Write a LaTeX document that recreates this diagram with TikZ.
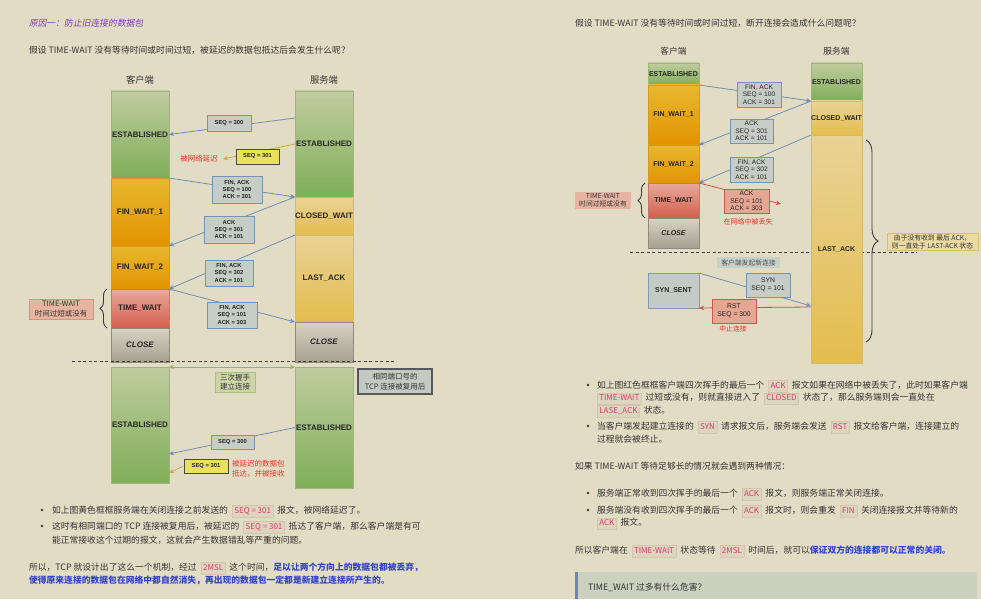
\documentclass[tikz,border=0pt]{standalone}
\usepackage{fontspec}
\setmainfont{Noto Sans CJK SC}
\newfontfamily\hand{Liberation Sans}
\newfontfamily\cjkslant[FakeSlant=0.18]{Noto Sans CJK SC}
\usetikzlibrary{arrows.meta,decorations.pathreplacing,calc}
\definecolor{bg}{HTML}{E3DCC5}
\definecolor{txt}{HTML}{333333}
\definecolor{grnT}{HTML}{C0CCA0}
\definecolor{grnB}{HTML}{80AE58}
\definecolor{grnD}{HTML}{9CB878}
\definecolor{orT}{HTML}{E8B830}
\definecolor{orB}{HTML}{E29300}
\definecolor{orD}{HTML}{D09A28}
\definecolor{loT}{HTML}{E9D296}
\definecolor{loB}{HTML}{E4BD4E}
\definecolor{loD}{HTML}{D6BA6C}
\definecolor{rdT}{HTML}{E8AA9A}
\definecolor{rdB}{HTML}{D45E4E}
\definecolor{rdD}{HTML}{C27868}
\definecolor{gyT}{HTML}{D7D2C2}
\definecolor{gyB}{HTML}{A5A092}
\definecolor{gyD}{HTML}{8E8A7E}
\definecolor{msgF}{HTML}{C6CCC6}
\definecolor{msgD}{HTML}{7593B2}
\definecolor{arrC}{HTML}{6F8FB4}
\definecolor{yelF}{HTML}{E9E15A}
\definecolor{yelD}{HTML}{4C4A3C}
\definecolor{goldC}{HTML}{C8A852}
\definecolor{redT}{HTML}{E8322B}
\definecolor{redA}{HTML}{C9524A}
\definecolor{redF}{HTML}{E5A693}
\definecolor{redD}{HTML}{C65A4F}
\definecolor{twF}{HTML}{E6B4A0}
\definecolor{twD}{HTML}{D39580}
\definecolor{hsF}{HTML}{CDD5A8}
\definecolor{hsD}{HTML}{A6BF82}
\definecolor{dblA}{HTML}{8DB86C}
\definecolor{reuseF}{HTML}{C4CAC3}
\definecolor{reuseD}{HTML}{55595A}
\definecolor{lastF}{HTML}{EADBA2}
\definecolor{lastD}{HTML}{D5BE72}
\definecolor{newF}{HTML}{C6D1CC}
\definecolor{ssF}{HTML}{C4CBC6}
\definecolor{ssD}{HTML}{8299AF}
\definecolor{chipF}{HTML}{DDD5BE}
\definecolor{chipD}{HTML}{D0C7AE}
\definecolor{chipT}{HTML}{DC3B6B}
\definecolor{blueT}{HTML}{3344CC}
\definecolor{purp}{HTML}{7E3CC2}
\definecolor{quoteF}{HTML}{CCD0BE}
\definecolor{quoteL}{HTML}{6A86B6}
\definecolor{braceC}{HTML}{3C3C3C}
\definecolor{dashC}{HTML}{3C3C3C}
\newcommand\chip[1]{\hspace{4pt}{\setlength\fboxsep{1.8pt}\setlength\fboxrule{0.5pt}\fcolorbox{chipD}{chipF}{\rule[-1.5pt]{0pt}{7pt}\fontsize{8}{9}\selectfont\textcolor{chipT}{#1}}}\hspace{4pt}}
\tikzset{
  seg/.style={inner sep=0, outer sep=0, line width=0.7pt, font=\hand\bfseries\fontsize{8}{9}\selectfont, text=black!85},
  rseg/.style={seg, font=\hand\bfseries\fontsize{7}{8}\selectfont},
  gr/.style={top color=grnT, bottom color=grnB, draw=grnD},
  orng/.style={top color=orT, bottom color=orB, draw=orD},
  lor/.style={top color=loT, bottom color=loB, draw=loD},
  rd/.style={top color=rdT, bottom color=rdB, draw=rdD},
  gy/.style={top color=gyT, bottom color=gyB, draw=gyD},
  msg/.style={draw=msgD, fill=msgF, line width=0.8pt, inner sep=0, align=center, font=\hand\bfseries\fontsize{5.8}{7.2}\selectfont, text=black!85},
  rmsg/.style={msg, font=\hand\fontsize{6.6}{7.6}\selectfont},
  yel/.style={msg, draw=yelD, fill=yelF},
  redbox/.style={msg, draw=redD, fill=redF},
  arr/.style={draw=arrC, line width=0.8pt, -{Stealth[length=5pt,width=4.5pt]}},
  note/.style={inner sep=0, align=center, font=\fontsize{7.5}{9.5}\selectfont, text=txt},
  body/.style={anchor=base west, inner sep=0, outer sep=0, font=\fontsize{8.8}{11}\selectfont, text=txt},
  head/.style={inner sep=0, font=\fontsize{9.3}{11}\selectfont, text=txt},
  bracedeco/.style={decorate, decoration={brace, amplitude=#1}, draw=braceC, line width=0.9pt},
  dot/.style={circle, fill=txt, inner sep=0, minimum size=2.6pt}
}
\begin{document}
\begin{tikzpicture}[x=1pt,y=-1pt]
\useasboundingbox (0,0) rectangle (981,599);
\fill[bg] (0,0) rectangle (981,599);

% ================= LEFT =================
\node[body, text=purp, font=\cjkslant\fontsize{8.8}{11}\selectfont] (t0) at (29,26.3) {原因一：防止旧连接的数据包};
\node[body] (t1) at (29,53.3) {假设 TIME-WAIT 没有等待时间或时间过短，被延迟的数据包抵达后会发生什么呢？};
\node[head] (hc) at (140,80) {客户端};
\node[head] (hs) at (324,80) {服务端};

% client column
\node[seg,gr,minimum width=58,minimum height=87] (cE) at (140,134.5) {ESTABLISHED};
\node[seg,orng,minimum width=58,minimum height=68] (cF1) at (140,212) {FIN\_WAIT\_1};
\node[seg,orng,minimum width=58,minimum height=43] (cF2) at (140,267.5) {FIN\_WAIT\_2};
\node[seg,rd,minimum width=58,minimum height=39] (cTW) at (140,308.5) {TIME\_WAIT};
\node[seg,gy,minimum width=58,minimum height=34,font=\hand\bfseries\itshape\fontsize{8}{9}\selectfont] (cCL) at (140,345) {CLOSE};
% server column
\node[seg,gr,minimum width=58,minimum height=106] (sE) at (324,144) {ESTABLISHED};
\node[seg,lor,minimum width=58,minimum height=38] (sCW) at (324,216) {CLOSED\_WAIT};
\node[seg,lor,minimum width=58,minimum height=87] (sLA) at (324,278.5) {LAST\_ACK};
\node[seg,gy,minimum width=58,minimum height=40,font=\hand\bfseries\itshape\fontsize{8}{9}\selectfont] (sCL) at (324,342) {CLOSE};
% lower columns
\node[seg,gr,minimum width=58,minimum height=116] (cE2) at (140,425) {ESTABLISHED};
\node[seg,gr,minimum width=58,minimum height=121] (sE2) at (324,427.5) {ESTABLISHED};

\draw[dashC, line width=0.8pt, dash pattern=on 3pt off 2.5pt] (72,361.5) -- (395,361.5);

% arrows left
\coordinate (lost1) at (223,159);
\coordinate (e1) at ($(cE2.south east)+(0,-29)$);
\coordinate (e2) at ($(cE2.south east)+(0,-10)$);
\draw[arr] ($(sE.north west)+(0,27)$) -- (cE.east);
\draw[arr, draw=goldC] (sE.west) -- (lost1);
\draw[arr] (cF1.north east) -- (sCW.north west);
\draw[arr] (sCW.north west) -- (cF2.north east);
\draw[arr] (sLA.north west) -- (cTW.north east);
\draw[arr] (cTW.north east) -- (sCL.north west);
\draw[arr] (sE2.west) -- (e1);
\draw[draw=dblA, line width=1pt, {Stealth[length=5pt,width=4.5pt]}-{Stealth[length=5pt,width=4.5pt]}] (cE2.north east) -- (sE2.north west);

% message boxes left
\node[msg, minimum width=44, minimum height=16] (m1) at (229,123) {SEQ = 300};
\node[yel, minimum width=43, minimum height=15] (m2) at (257.5,156.5) {SEQ = 301};
\node[msg, minimum width=50, minimum height=27] (m3) at (237,189.5) {FIN, ACK\\SEQ = 100\\ACK = 301};
\node[msg, minimum width=50, minimum height=27] (m4) at (229,229.5) {ACK\\SEQ = 301\\ACK = 101};
\node[msg, minimum width=48, minimum height=26] (m5) at (229,273) {FIN, ACK\\SEQ = 302\\ACK = 101};
\node[msg, minimum width=50, minimum height=26] (m6) at (232,315) {FIN, ACK\\SEQ = 101\\ACK = 303};
\node[msg, minimum width=43, minimum height=14] (m7) at (232.5,442) {SEQ = 300};
\node[yel, minimum width=44, minimum height=14] (m8) at (206,466) {SEQ = 301};
\draw[arr, draw=goldC] (m8.west) -- (e2);

\node[note, text=redT] (n1) at (199,159) {被网络延迟};
\node[note, draw=twD, fill=twF, minimum width=64, minimum height=20, font=\fontsize{7.5}{9.8}\selectfont] (n2) at (61,309) {TIME-WAIT\\时间过短或没有};
\draw[bracedeco=7] ($(cTW.south west)+(-4,0)$) -- ($(cTW.north west)+(-4,0)$);
\node[note, draw=hsD, fill=hsF, line width=0.8pt, minimum width=40, minimum height=20] (n3) at (235,382) {三次握手\\建立连接};
\node[note, draw=reuseD, fill=reuseF, line width=1.1pt, minimum width=74, minimum height=25] (n4) at (395,381.5) {相同端口号的\\TCP 连接被复用后};
\node[note, text=redT, anchor=west, align=left] (n5) at (232,468.5) {被延迟的数据包\\抵达，并被接收};

% left text
\node[dot] (d1) at (42,510) {};
\node[dot] (d2) at (42,526) {};
\node[body] (t2) at (52,513.3) {如上图黄色框框服务端在关闭连接之前发送的\chip{SEQ = 301}报文，被网络延迟了。};
\node[body] (t3) at (52,529.3) {这时有相同端口的 TCP 连接被复用后，被延迟的\chip{SEQ = 301}抵达了客户端，那么客户端是有可};
\node[body] (t4) at (52,543.3) {能正常接收这个过期的报文，这就会产生数据错乱等严重的问题。};
\node[body] (t5) at (29,570.3) {所以，TCP 就设计出了这么一个机制，经过\chip{2MSL}这个时间，\textcolor{blueT}{\bfseries 足以让两个方向上的数据包都被丢弃，}};
\node[body, text=blueT, font=\bfseries\fontsize{8.8}{11}\selectfont] (t6) at (29,583.3) {使得原来连接的数据包在网络中都自然消失，再出现的数据包一定都是新建立连接所产生的。};

% ================= RIGHT =================
\node[body] (u1) at (575,26.3) {假设 TIME-WAIT 没有等待时间或时间过短，断开连接会造成什么问题呢？};
\node[head, font=\fontsize{8.7}{10}\selectfont] (hc2) at (673.5,51) {客户端};
\node[head, font=\fontsize{8.7}{10}\selectfont] (hs2) at (836.5,51) {服务端};

\draw[dashC, line width=0.8pt, dash pattern=on 3pt off 2.5pt] (630,252) -- (917,252);

\node[rseg,gr,minimum width=51,minimum height=22] (rE) at (673.5,74) {ESTABLISHED};
\node[rseg,orng,minimum width=51,minimum height=60] (rF1) at (673.5,115) {FIN\_WAIT\_1};
\node[rseg,orng,minimum width=51,minimum height=38] (rF2) at (673.5,164) {FIN\_WAIT\_2};
\node[rseg,rd,minimum width=51,minimum height=35] (rTW) at (673.5,200.5) {TIME\_WAIT};
\node[rseg,gy,minimum width=51,minimum height=30,font=\hand\bfseries\itshape\fontsize{7}{8}\selectfont] (rCL) at (673.5,233) {CLOSE};
\node[rseg,gr,minimum width=51,minimum height=38] (rsE) at (836.5,82) {ESTABLISHED};
\node[rseg,lor,minimum width=51,minimum height=34] (rsCW) at (836.5,118) {CLOSED\_WAIT};
\node[rseg,lor,minimum width=51,minimum height=228] (rsLA) at (836.5,249) {LAST\_ACK};
\node[rseg,draw=ssD,fill=ssF,minimum width=51,minimum height=35] (rSS) at (673.5,290.5) {SYN\_SENT};

\coordinate (lost2) at (781,204);
\coordinate (synend) at ($(rsLA.south west)+(0,-57)$);
\coordinate (rststart) at ($(rsLA.south west)+(0,-56)$);
\draw[arr] (rE.south east) -- (rsCW.north west);
\draw[arr] (rsCW.north west) -- (rF2.north east);
\draw[arr] (rsLA.north west) -- (rTW.north east);
\draw[arr, draw=redA] (rTW.north east) -- (lost2);
\draw[arr] (rSS.north east) -- (synend);
\draw[arr, draw=redA] (rststart) -- (rSS.south east);

\node[rmsg, minimum width=44, minimum height=25] (r1) at (759,94.5) {FIN, ACK\\SEQ = 100\\ACK = 301};
\node[rmsg, minimum width=43, minimum height=24] (r2) at (751.5,131) {ACK\\SEQ = 301\\ACK = 101};
\node[rmsg, minimum width=43, minimum height=25] (r3) at (751.5,169.5) {FIN, ACK\\SEQ = 302\\ACK = 101};
\node[rmsg, draw=redD, fill=redF, minimum width=45, minimum height=24] (r4) at (746.5,201) {ACK\\SEQ = 101\\ACK = 303};
\node[rmsg, minimum width=44, minimum height=24, font=\hand\fontsize{6.8}{8}\selectfont] (r5) at (768,285) {SYN\\SEQ = 101};
\node[rmsg, draw=redD, fill=redF, minimum width=44, minimum height=24, font=\hand\fontsize{6.8}{8}\selectfont] (r6) at (734,311) {RST\\SEQ = 300};

\node[note, text=redT, font=\fontsize{7}{8}\selectfont] (q1) at (748,222) {在网络中被丢失};
\node[note, text=redT, font=\fontsize{6.8}{8}\selectfont] (q2) at (733,329) {中止连接};
\node[note, fill=twF, minimum width=56, minimum height=17, font=\fontsize{6.8}{8}\selectfont] (q3) at (603,200.5) {TIME-WAIT\\时间过短或没有};
\draw[bracedeco=7] ($(rTW.south west)+(-3,0)$) -- ($(rTW.north west)+(-3,0)$);
\draw[bracedeco=12] (866,140) -- (866,342);
\node[note, draw=lastD, fill=lastF, line width=0.6pt, minimum width=91, minimum height=17, font=\fontsize{6.8}{8}\selectfont] (q4) at (932.5,241.5) {由于没有收到 最后 ACK，\\则一直处于 LAST-ACK 状态};
\node[note, fill=newF, minimum width=63, minimum height=11, font=\fontsize{6.8}{8}\selectfont, text=txt!85] (q5) at (748.5,262.5) {客户端发起新连接};

% right text
\node[dot] (d3) at (588,385) {};
\node[dot] (d4) at (588,426) {};
\node[dot] (d5) at (588,493) {};
\node[dot] (d6) at (588,510) {};
\node[body] (u2) at (597,388.3) {如上图红色框框客户端四次挥手的最后一个\chip{ACK}报文如果在网络中被丢失了，此时如果客户端};
\node[body] (u3) at (593,400.8) {\chip{TIME-WAIT}过短或没有，则就直接进入了\chip{CLOSED}状态了，那么服务端则会一直处在};
\node[body] (u4) at (593,413.3) {\chip{LASE\_ACK}状态。};
\node[body] (u5) at (597,429.3) {当客户端发起建立连接的\chip{SYN}请求报文后，服务端会发送\chip{RST}报文给客户端，连接建立的};
\node[body] (u6) at (597,442.3) {过程就会被终止。};
\node[body] (u7) at (575,469.3) {如果 TIME-WAIT 等待足够长的情况就会遇到两种情况：};
\node[body] (u8) at (597,496.3) {服务端正常收到四次挥手的最后一个\chip{ACK}报文，则服务端正常关闭连接。};
\node[body] (u9) at (597,513.3) {服务端没有收到四次挥手的最后一个\chip{ACK}报文时，则会重发\chip{FIN}关闭连接报文并等待新的};
\node[body] (u10) at (593,525.8) {\chip{ACK}报文。};
\node[body] (u11) at (575,553.3) {所以客户端在\chip{TIME-WAIT}状态等待\chip{2MSL}时间后，就可以\textcolor{blueT}{\bfseries 保证双方的连接都可以正常的关闭。}};

\fill[quoteF] (575,572) rectangle (977,599);
\fill[quoteL] (575,572) rectangle (578,599);
\node[body] (u12) at (588,590.3) {TIME\_WAIT 过多有什么危害？};
\end{tikzpicture}
\end{document}
